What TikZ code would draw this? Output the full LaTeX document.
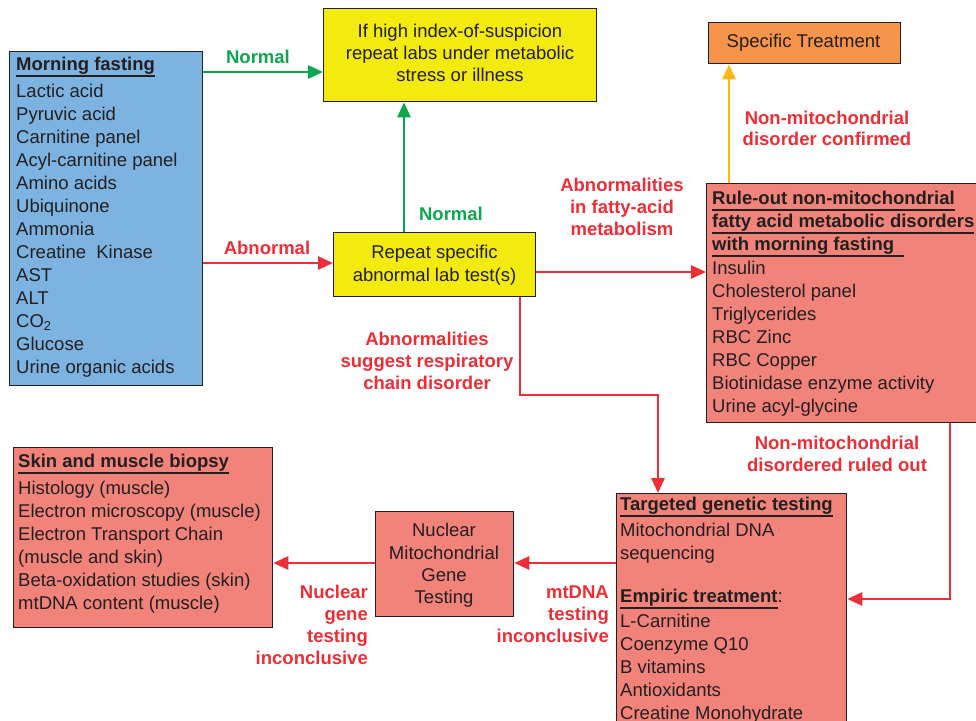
\documentclass[tikz,border=0pt]{standalone}
\usepackage{fontspec}
\setmainfont{Liberation Sans}
\usetikzlibrary{arrows.meta}
\definecolor{txt}{HTML}{231F20}
\definecolor{bluef}{HTML}{7DB3E1}
\definecolor{yelf}{HTML}{F3EA10}
\definecolor{orf}{HTML}{F5944A}
\definecolor{salf}{HTML}{F1837A}
\definecolor{redl}{HTML}{EE2E36}
\definecolor{grnl}{HTML}{0DA64F}
\definecolor{yell}{HTML}{FDB913}
\newcommand\hdr[1]{\setbox0\hbox{\bfseries #1}\rlap{\rule[-6pt]{\wd0}{2pt}}\box0}
\begin{document}
\begin{tikzpicture}[x=1pt,y=-1pt,
  box/.style={draw=txt, line width=1.3pt, inner sep=0pt, anchor=north west},
  body/.style={inner sep=0pt, text=txt, font=\fontsize{18.5}{23}\selectfont},
  lbl/.style={inner sep=0pt, align=center, font=\bfseries\fontsize{18.5}{22}\selectfont},
  conn/.style={line width=2.8pt, -{Triangle[length=15pt,width=13pt]}},
  rline/.style={conn, draw=redl},
  gline/.style={conn, draw=grnl},
  yline/.style={conn, draw=yell}]
\path[use as bounding box, clip] (0,0) rectangle (976,720);
\fill[white] (0,0) rectangle (976,720);

% boxes
\node[box, fill=bluef, minimum width=193pt, minimum height=334pt] (blue) at (9,51) {};
\node[box, fill=yelf, minimum width=273pt, minimum height=93pt] (yel1) at (323,8) {};
\node[box, fill=yelf, minimum width=202pt, minimum height=64pt] (yel2) at (333,232) {};
\node[box, fill=orf, minimum width=192pt, minimum height=41pt] (orange) at (708,22) {};
\node[box, fill=salf, minimum width=290pt, minimum height=239pt] (rule) at (706,183) {};
\node[box, fill=salf, minimum width=259pt, minimum height=180pt] (skin) at (13,447) {};
\node[box, fill=salf, minimum width=138pt, minimum height=105pt] (nuc) at (375,511) {};
\node[box, fill=salf, minimum width=230pt, minimum height=250pt] (targ) at (616,493) {};

% box texts
\node[body, anchor=north west, align=left] (bluet) at (16,54.4) {\strut\hdr{Morning fasting}\\[4pt]
 Lactic acid\\ Pyruvic acid\\ Carnitine panel\\ Acyl-carnitine panel\\ Amino acids\\ Ubiquinone\\ Ammonia\\
 Creatine~ Kinase\\ AST\\ ALT\\ CO\textsubscript{2}\\ Glucose\\ Urine organic acids};
\node[body, anchor=north, align=center, font=\fontsize{18.5}{22}\selectfont] (yel1t) at (460,22.1)
 {\strut If high index-of-suspicion\\ repeat labs under metabolic\\ stress or illness};
\node[body, anchor=north, align=center] (yel2t) at (434.5,242.4) {\strut Repeat specific\\ abnormal lab test(s)};
\node[body] (oranget) at (803.5,43) {Specific Treatment};
\node[body, anchor=north west, align=left] (rulet) at (712,188.4) {\strut\hdr{Rule-out non-mitochondrial}\\
 \hdr{fatty acid metabolic disorders}\\ \hdr{with morning fasting\ \ }\\[1pt]
 Insulin\\ Cholesterol panel\\ Triglycerides\\ RBC Zinc\\ RBC Copper\\ Biotinidase enzyme activity\\ Urine acyl-glycine};
\node[body, anchor=north west, align=left] (skint) at (18,451.4) {\strut\hdr{Skin and muscle biopsy}\\[4pt]
 Histology (muscle)\\ Electron microscopy (muscle)\\ Electron Transport Chain\\ (muscle and skin)\\
 Beta-oxidation studies (skin)\\ mtDNA content (muscle)};
\node[body, anchor=north, align=center, font=\fontsize{18.5}{22.3}\selectfont] (nuct) at (444,520.9)
 {\strut Nuclear\\ Mitochondrial\\ Gene\\ Testing};
\node[body, anchor=north west, align=left] (targt) at (620,494.4) {\strut\hdr{Targeted genetic testing}\\[3pt]
 Mitochondrial DNA\\ sequencing\\[20pt] \hdr{Empiric treatment}:\\[2pt]
 L-Carnitine\\ Coenzyme Q10\\ B vitamins\\ Antioxidants\\ Creatine Monohydrate};

% connectors
\draw[gline] (blue.east |- 0,72) -- (yel1.west |- 0,72);
\draw[rline] (blue.east |- 0,263) -- (yel2.west |- 0,263);
\draw[gline] (yel2.north -| 404,0) -- (yel1.south -| 404,0);
\draw[rline] (yel2.east |- 0,272) -- (rule.west |- 0,272);
\draw[rline] (yel2.south -| 520,0) |- (658,395) -- (targ.north -| 658,0);
\draw[yline] (rule.north -| 729,0) -- (orange.south -| 729,0);
\draw[rline] (rule.south -| 950,0) |- (targ.east |- 0,599);
\draw[rline] (targ.west |- 0,563) -- (nuc.east |- 0,563);
\draw[rline] (nuc.west |- 0,563) -- (skin.east |- 0,563);

% labels
\node[lbl, text=grnl] (l1) at (258,57) {Normal};
\node[lbl, text=redl] (l2) at (267,248) {Abnormal};
\node[lbl, text=grnl] (l3) at (451,214) {Normal};
\node[lbl, text=redl, anchor=north] (l4) at (622,176.1) {\strut Abnormalities\\ in fatty-acid\\ metabolism};
\node[lbl, text=redl, anchor=north] (l5) at (427,330.1) {\strut Abnormalities\\ suggest respiratory\\ chain disorder};
\node[lbl, text=redl, anchor=north, font=\bfseries\fontsize{18.5}{21}\selectfont] (l6) at (827,109.8)
 {\strut Non-mitochondrial\\ disorder confirmed};
\node[lbl, text=redl, anchor=north] (l7) at (837,434.1) {\strut Non-mitochondrial\\ disordered ruled out};
\node[lbl, text=redl, anchor=north east, align=right] (l8) at (609,583.1) {\strut mtDNA\\ testing\\ inconclusive};
\node[lbl, text=redl, anchor=north east, align=right] (l9) at (368,583.1) {\strut Nuclear\\ gene\\ testing\\ inconclusive};
\end{tikzpicture}
\end{document}
